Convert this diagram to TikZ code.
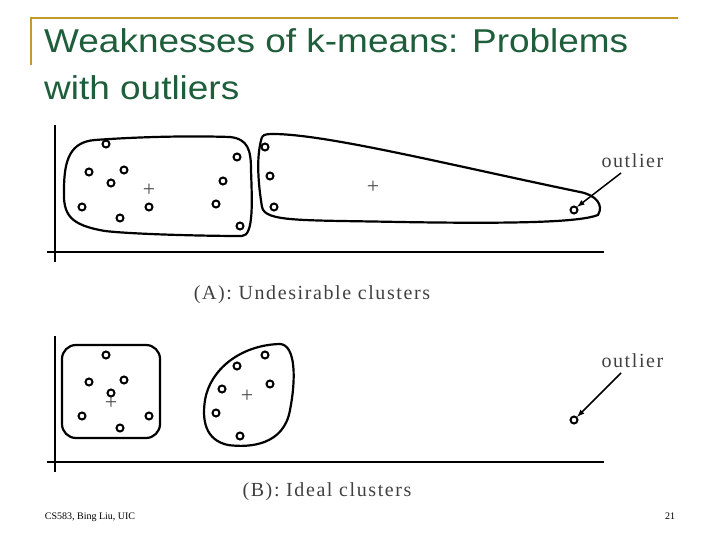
\documentclass[tikz,border=0pt]{standalone}
\usepackage{fontspec}
\setmainfont{Liberation Serif}
\newfontfamily\titlefont[FakeStretch=1.12]{Liberation Sans}
\newfontfamily\labfont[LetterSpace=8]{Liberation Serif}
\definecolor{ttl}{HTML}{1E5E3A}
\definecolor{gold}{HTML}{C09A2A}
\begin{document}
\begin{tikzpicture}[x=1pt,y=-1pt,
 pt/.style={circle,draw,line width=2pt,inner sep=0pt,minimum size=7pt},
 ax/.style={line width=1.8pt},
 blob/.style={line width=2.2pt,rounded corners=14pt},
 lab/.style={font=\labfont\fontsize{20}{20}\selectfont,text=black!75},
 olab/.style={font=\labfont\fontsize{20}{20}\selectfont,text=black!75},
 pl/.style={font=\fontsize{22}{22}\selectfont,text=black!70},
 arr/.style={line width=1.5pt,-latex}]
\useasboundingbox (0,0) rectangle (720,540);
\draw[gold,line width=2pt] (30,18) -- (678,18) (31,18) -- (31,65);
\node[anchor=north west,align=left,text=ttl,font=\titlefont\fontsize{33}{47}\selectfont,inner sep=0pt] (title) at (44,28) {Weaknesses of k-means: Problems\\with outliers};
% Panel A
\draw[ax] (55,125) -- (55,262) (47,252) -- (604,252);
\draw[line width=2.2pt] (95,140) .. controls (150,136) and (200,136) .. (230,137) .. controls (248,139) and (251,150) .. (251,170) .. controls (252,200) and (254,236) .. (242,236) .. controls (200,236) and (130,234) .. (105,231) .. controls (70,225) and (63,215) .. (64,190) .. controls (64,160) and (70,142) .. (95,140);
\draw[line width=2.2pt] (262,137) .. controls (258,150) and (256,170) .. (262,207) .. controls (265,222) and (300,220) .. (400,222) .. controls (520,224) and (580,222) .. (598,215) .. controls (604,205) and (596,195) .. (580,192) .. controls (450,165) and (330,135) .. (275,134) .. controls (268,134) and (264,134) .. (262,137);
\foreach \x/\y [count=\i] in {106/144,89/172,124/170,111/183,82/207,120/218,149/207,237/157,223/181,216/204,240/226,265/147,270/176,274/207,574/210}
  \node[pt] (a\i) at (\x,\y) {};
\node[pl] (ca1) at (149,190) {+};
\node[pl] (ca2) at (373,187) {+};
\node[olab,anchor=west] (oa) at (598,161) {outlier};
\draw[arr] (621,173) -- (a15.north east);
\node[lab] (capa) at (312,295) {(A): Undesirable clusters};
% Panel B
\draw[ax] (55,336) -- (55,472) (47,462) -- (604,462);
\draw[blob] (62,345) rectangle (160,438);
\draw[line width=2.2pt] (205,400) .. controls (210,370) and (240,345) .. (280,344) .. controls (296,345) and (296,380) .. (290,410) .. controls (284,445) and (250,448) .. (228,445) .. controls (205,440) and (202,420) .. (205,400);
\foreach \x/\y [count=\i] in {106/355,89/382,124/380,111/393,82/416,120/428,149/416,237/366,265/355,222/389,270/384,216/413,240/436,574/420}
  \node[pt] (b\i) at (\x,\y) {};
\node[pl] (cb1) at (111,403) {+};
\node[pl] (cb2) at (247,396) {+};
\node[olab,anchor=west] (ob) at (598,361) {outlier};
\draw[arr] (621,373) -- (b14.north east);
\node[lab] (capb) at (327,492) {(B): Ideal clusters};
\node[font=\fontsize{10}{10}\selectfont] (foot) at (90,517) {CS583, Bing Liu, UIC};
\node[font=\fontsize{10}{10}\selectfont] (num) at (670,516) {21};
\end{tikzpicture}
\end{document}
